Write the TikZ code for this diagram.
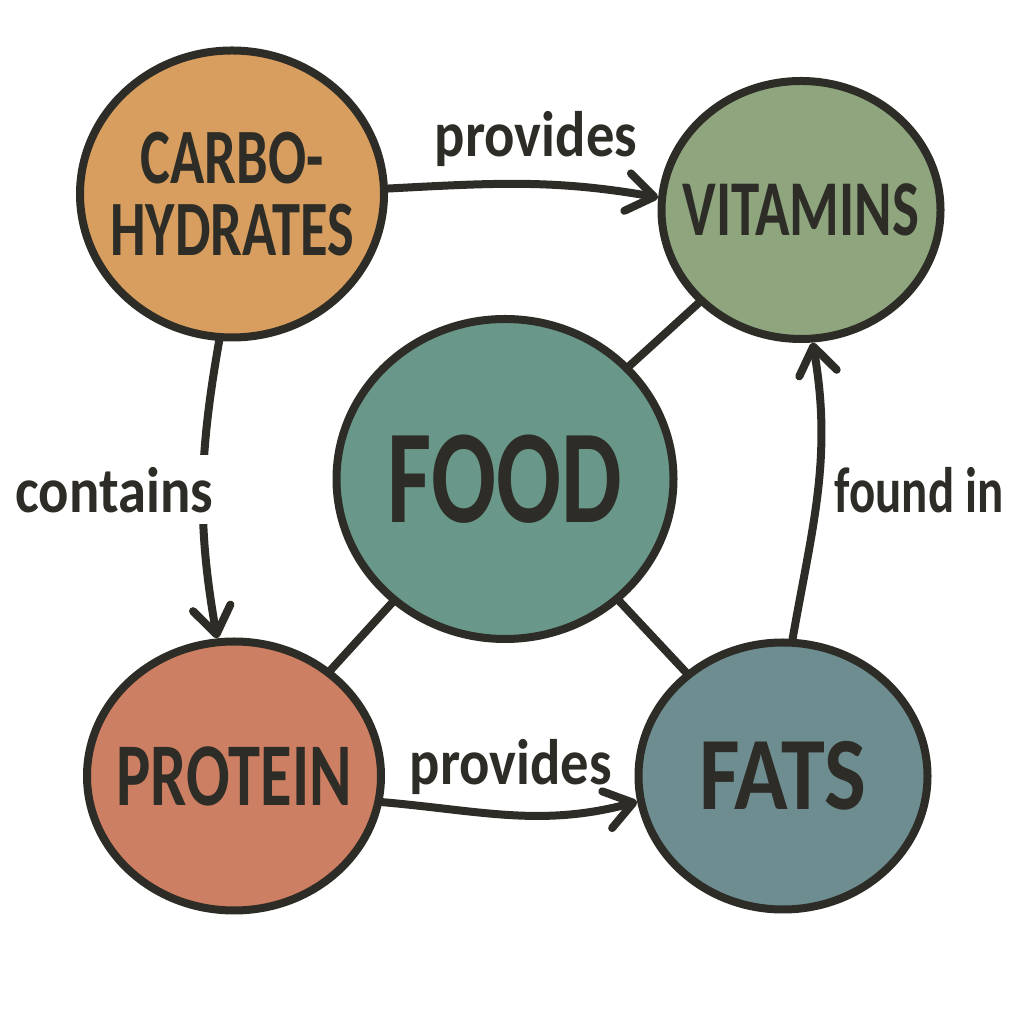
\documentclass[tikz,border=0pt]{standalone}
\usepackage{fontspec}
\setmainfont{Carlito}
\newfontfamily\bubblefont{Carlito}[FakeStretch=0.72]
\newfontfamily\widebubblefont{Carlito}[FakeStretch=0.85]
\newfontfamily\edgefont{Carlito}[FakeStretch=0.88]
\newfontfamily\narrowedgefont{Carlito}[FakeStretch=0.76]
\usetikzlibrary{arrows.meta}
\usetikzlibrary{shapes.geometric}
\definecolor{Ink}{HTML}{2D2C26}
\definecolor{CarbsFill}{HTML}{D89E5F}
\definecolor{VitaminsFill}{HTML}{8EA57E}
\definecolor{FoodFill}{HTML}{69978A}
\definecolor{ProteinFill}{HTML}{CC7F62}
\definecolor{FatsFill}{HTML}{6E8D90}

\begin{document}
\begin{tikzpicture}[x=0.1mm, y=0.1mm,
    line width=0.8mm,
    bubble/.style={shape=ellipse, draw=Ink, inner sep=0mm},
    word/.style={text=Ink, inner sep=0mm, align=center},
    link/.style={draw=Ink, line cap=round},
    flow/.style={link, -{Straight Barb[length=2.7mm, width=3.8mm, round]}},
    tag/.style={text=Ink, inner sep=0.5mm,
      font=\edgefont\bfseries\fontsize{18.3}{18.3}\selectfont}]

    \path [use as bounding box, fill=white] (0,0) rectangle (1024,1024);

    \node[name=carbs,
      bubble,
      fill=CarbsFill,
      minimum width=30.4mm,
      minimum height=28.7mm,
      label={[word, font=\bubblefont\bfseries\fontsize{22.3}{20.5}\selectfont]center:CARBO-\\HYDRATES}]
      at (232,830) {};

    \node[name=vitamins,
      bubble,
      fill=VitaminsFill,
      minimum width=27.9mm,
      minimum height=25.8mm,
      label={[word, font=\bubblefont\bfseries\fontsize{22.5}{22.5}\selectfont]center:VITAMINS}]
      at (801,814) {};

    \node[name=food,
      bubble,
      fill=FoodFill,
      minimum width=33.7mm,
      minimum height=32mm,
      label={[word, font=\bubblefont\bfseries\fontsize{38}{38}\selectfont]center:FOOD}]
      at (505,545) {};

    \node[name=protein,
      bubble,
      fill=ProteinFill,
      minimum width=29.4mm,
      minimum height=26.9mm,
      label={[word, font=\bubblefont\bfseries\fontsize{25.5}{25.5}\selectfont]center:PROTEIN}]
      at (234,248) {};

    \node[name=fats,
      bubble,
      fill=FatsFill,
      minimum width=28.9mm,
      minimum height=26.7mm,
      label={[word, font=\widebubblefont\bfseries\fontsize{29.6}{29.6}\selectfont]center:FATS}]
      at (783,248) {};

    \path (food) edge[link] (vitamins);
    \path (food) edge[link] (protein);
    \path (food) edge[link] (fats);

    \path (carbs.2) edge[flow, out=3, in=170]
      node[tag, pos=0.55, above=0.9mm] {provides} (vitamins.175);
    \path (carbs.265) edge[flow, out=260, in=100]
      node[tag, midway, fill=white, anchor=east, xshift=2.6mm, inner sep=1.2mm] {contains} (protein.97);
    \path (protein.350) edge[flow, out=-5, in=195]
      node[tag, pos=0.5, above=1.1mm] {provides} (fats.190);
    \path (fats.86) edge[flow, out=80, in=280]
      node[tag, pos=0.5, right=0.8mm,
        font=\narrowedgefont\bfseries\fontsize{18.3}{18.3}\selectfont] {found in} (vitamins.275);
  \end{tikzpicture}
\end{document}
